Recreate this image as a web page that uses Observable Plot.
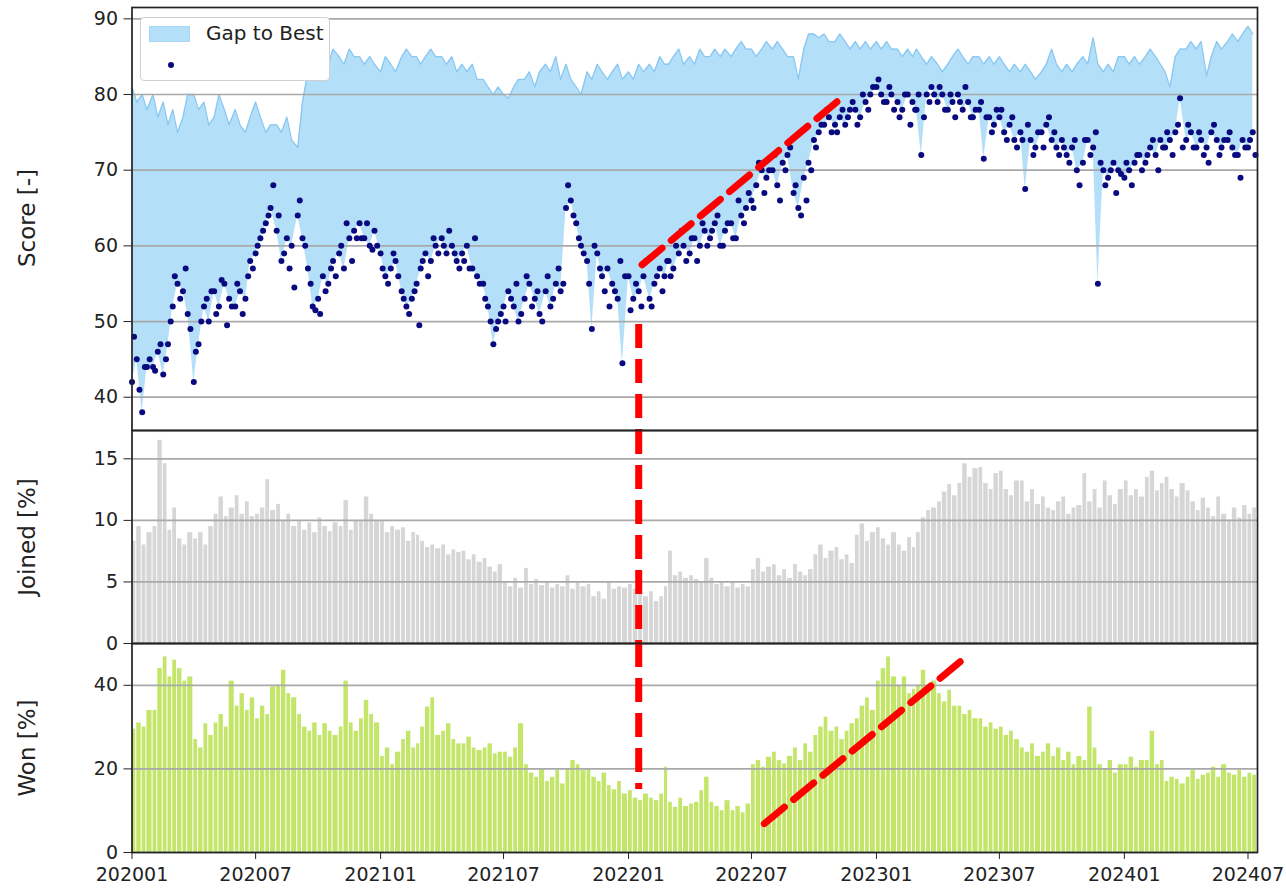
<!DOCTYPE html>
<html>
<head>
<meta charset="utf-8">
<script src="https://cdn.jsdelivr.net/npm/d3@7"></script>
<script src="https://cdn.jsdelivr.net/npm/@observablehq/plot@0.6"></script>
<style>
  body { margin: 0; background: #fff; font-family: "DejaVu Sans", sans-serif; }
  #fig { position: relative; width: 1286px; height: 891px; overflow: hidden; background: #fff; }
  .panel { position: absolute; left: 0; }
  .ylab { position: absolute; font-size: 23px; color: #222; white-space: nowrap;
          transform: translate(-50%, -50%) rotate(-90deg); }
  #legend { position: absolute; left: 140px; top: 17px; width: 190px; height: 64px; background: #fff;
            border: 1px solid #d0d0d0; border-radius: 4px; box-sizing: border-box; }
  #legend .patch { position: absolute; left: 8px; top: 8px; width: 41px; height: 16px; background: #b3dff9;
                   border: 1px solid #a5d6f5; box-sizing: border-box; }
  #legend .txt { position: absolute; left: 65px; top: 3px; font-size: 20px; color: #222; }
  #legend .dot { position: absolute; left: 27px; top: 44px; width: 6px; height: 6px; border-radius: 50%; background: #0a0a80; }
</style>
</head>
<body>
<div id="fig"></div>
<script>
// ---------- data, starting 2020-01 ----------
// main series: 4 samples per month (days 1, 8, 16, 23)
const sampleDays = [1, 8, 16, 23];
// extra score readings between them (days 4, 12, 20, 27)
const midDays = [4, 12, 20, 27];

const score = [
  42, 45, 38, 44,   44, 46, 43, 47,   52, 55, 54, 51,   42, 47, 52, 50,   54, 52, 55, 53,   52, 54, 53, 58,
  59, 61, 63, 65,   62, 58, 61, 60,   64, 61, 57, 52,   53, 56, 55, 58,   59, 57, 61, 62,   63, 61, 60, 62,
  59, 56, 57, 58,   54, 52, 53, 55,   57, 59, 58, 60,   61, 59, 60, 58,   59, 60, 57, 56,   55, 52, 47, 50,
  52, 54, 52, 50,   53, 55, 53, 51,   54, 52, 55, 54,   65, 66, 63, 60,   58, 49, 59, 56,   57, 55, 53, 44.5,
  56, 53, 54, 56,   53, 55, 57, 56,   58, 57, 59, 60,   59, 61, 60, 62,   61, 63, 60, 62,   63, 61, 64, 65,
  66, 68, 70, 69,   70, 68, 71, 72,   67, 65, 69, 71,   74, 75, 76, 77,   76, 77, 76, 78,   78, 77, 79, 80,
  81, 80, 79, 80,   79, 78, 80, 79,   78, 72, 80, 81,   79, 80, 78, 79,   80, 78, 79, 77,   78, 71.5, 77, 76,
  77, 75, 76, 74,   75, 67.5, 74, 73, 75, 76, 74, 73,   74, 72, 73, 70,   71, 74, 73, 55,   70, 69, 71, 70,
  69, 70, 71, 72,   71, 73, 72, 74,   73, 74, 75, 79.5, 74, 75, 73, 74,   73, 75, 74, 73,   74, 73, 72, 74,
  73, 75
];

const scoreMid = [
  48, 41, 44, 45,   43.5, 47, 45, 50, 56, 53, 57, 49,   46, 50, 53, 54,   51, 55.5, 49.5, 52, 55, 51, 56, 57,
  60, 62, 64, 68,   64, 59, 57, 54.5, 66, 60, 55, 51.5, 51, 54, 57, 56,   60, 63, 58, 61,   61, 63, 59.5, 60,
  57, 55, 59, 56,   53, 51, 54, 49.5, 58, 56, 61, 59,   60, 62, 59, 57,   58, 57, 61, 55,   53, 50, 49, 51,
  50, 53, 55, 51,   56, 52, 54, 50,   56, 53, 57, 55,   68, 64, 61, 59,   55, 60, 57, 54,   52, 54, 58, 56,
  51.5, 55, 52, 58, 52, 56, 54, 58,   56, 60, 62, 58,   61, 58, 63, 60,   62, 64, 60, 63,   61, 66, 63, 67,
  65, 71, 67, 70,   72, 66, 70, 73,   68, 64, 66, 70,   73, 76, 78, 75,   75, 78, 77, 79,   76, 80, 78, 81,
  82, 79, 81, 78,   77, 80, 76, 78,   80, 77, 79, 80,   81, 78, 80, 77,   79, 81, 77, 78,   79, 77, 75, 78,
  78, 74, 77, 73,   74, 76, 72, 75,   73, 77, 75, 72,   73, 71, 74, 68,   74, 72, 75, 71,   68, 70, 67, 69.5,
  71, 68, 72, 70,   72, 74, 70, 73,   75, 72, 76, 73,   76, 73, 75, 72,   71, 76, 72, 74,   75, 72, 69, 73,
  74, 72
];

const best = [
  81, 79, 80, 78,   80, 77, 79, 76,   78, 75, 77, 80,   80, 78, 79, 76,   77, 80, 78, 76,   78, 76, 75, 77,
  79, 77, 75, 76,   76, 75, 77, 74,   73, 79, 83, 85,   84, 85, 84, 86,   85, 84, 86, 85,   85, 84, 85, 84,
  83, 85, 84, 83,   85, 86, 85, 85,   84, 85, 86, 85,   85, 84, 85, 83,   84, 83, 84, 82,   82, 81, 80, 81,
  80, 79.5, 81, 82, 82, 83, 81, 83,   84, 83, 85, 82,   84, 82, 81, 80,   83, 82, 84, 83,   82, 83, 84, 82,
  83, 82, 84, 83,   84, 83, 85, 84,   84, 85, 86, 84,   85, 84, 86, 85,   85, 86, 85, 86,   85, 86, 87, 86,
  86, 85, 86, 87,   86, 87, 86, 85,   85, 82, 86, 88,   88, 87.5, 88, 87, 87, 88, 87, 86,   87, 86, 87, 86,
  87, 86, 87, 86,   86, 85, 86, 85,   86, 85, 84, 85,   84, 83, 84, 85,   86, 85, 84, 85,   85, 84, 85, 84,
  85, 84, 83, 84,   83, 84, 83, 82,   83, 84, 86, 84,   83, 84, 83, 84,   85, 84, 87.5, 84, 83, 84, 83, 85,
  85, 84, 85, 84,   85, 86, 85, 84,   83, 81, 85, 86,   86, 87, 86, 87,   82.5, 85, 87, 86, 87, 88, 87, 88,
  89, 88
];

const joined = [
  8.3, 9.5, 8.0, 9.0,    9.5, 16.5, 14.6, 9.2,  11.0, 8.5, 8.0, 9.0,   8.5, 9.0, 8.0, 9.5,
  10.5, 11.9, 10.3, 11.0, 12.0, 10.5, 11.5, 10.3, 10.5, 11.0, 13.3, 10.8, 11.3, 10.0, 10.5, 9.5,
  10.0, 9.2, 9.8, 9.0,   10.2, 9.5, 9.1, 9.8,   9.5, 11.6, 9.2, 10.0,   10.0, 11.9, 10.5, 10.0,
  9.9, 9.0, 9.5, 9.2,    9.4, 8.3, 9.0, 8.8,    8.3, 7.8, 8.0, 7.7,     8.0, 7.2, 7.6, 7.4,
  7.5, 6.8, 7.2, 6.6,    6.9, 6.2, 5.8, 6.4,    5.0, 4.6, 5.3, 4.5,     6.1, 4.8, 5.2, 4.7,
  5.0, 4.5, 4.8, 4.6,    5.5, 4.4, 5.0, 4.6,    4.8, 3.8, 4.2, 3.6,     5.0, 4.4, 4.6, 4.5,
  4.8, 4.4, 4.6, 3.8,    4.2, 3.4, 3.8, 4.6,    7.5, 5.5, 5.8, 5.3,     5.5, 5.2, 5.0, 6.9,
  5.3, 4.8, 5.0, 4.6,    5.0, 4.5, 4.8, 4.6,    6.0, 6.9, 5.8, 6.2,     6.4, 5.5, 6.0, 5.3,
  6.4, 5.8, 5.5, 6.0,    7.2, 8.0, 6.9, 7.5,    7.8, 6.8, 7.2, 6.5,     8.8, 9.7, 8.3, 9.0,
  9.4, 8.5, 8.0, 9.0,    8.0, 7.5, 8.6, 7.8,    9.0, 10.2, 10.8, 11.0,  11.5, 12.3, 12.9, 12.0,
  13.0, 14.6, 13.5, 14.2, 14.3, 13.0, 12.5, 13.8, 14.0, 12.5, 12.0, 13.2, 13.2, 11.5, 12.5, 11.3,
  11.9, 11.0, 10.8, 11.5, 11.9, 10.5, 11.0, 11.2, 13.8, 11.5, 12.5, 11.0, 13.2, 12.0, 11.3, 12.5,
  13.2, 12.0, 12.5, 11.9, 13.5, 14.0, 12.4, 13.0, 13.5, 12.5, 11.9, 13.0, 12.4, 11.5, 10.8, 11.8,
  11.0, 10.3, 11.9, 10.5, 10.0, 11.0, 10.2, 11.2, 10.5, 11.0
];

const won = [
  29.5, 31, 30, 34,    34, 44, 46.8, 42,    46, 44, 41, 42,      27, 25, 30.8, 28,
  31, 33, 30, 41,      35, 38, 34, 37,      32, 35, 33, 39.6,    40, 43.6, 38, 37,
  33, 30, 29, 31,      28, 30.8, 29, 28,    30, 41, 31, 29,      32, 36.4, 33, 31,
  23, 25, 21, 24,      27, 29, 25, 26,      30, 34.8, 37, 28,    29, 30.8, 27, 26,
  26, 27.6, 25, 24.4,  25, 26, 23.6, 24,    24, 22.8, 25, 30.8,  21, 19, 18, 20,
  17, 18, 19.6, 16.4,  20, 22, 21, 19.6,    20, 18, 17, 19,      16, 15, 17, 14,
  14.8, 13, 12.4, 14,  13, 12.4, 14, 20.4,  12, 10.8, 13, 11,    11.6, 12, 14.8, 18,
  12, 11, 10, 12.4,    10, 11, 9.5, 11.6,   21, 22, 20.4, 22.8,  24, 22, 21.2, 23,
  25, 22, 26, 24,      28, 30, 32.4, 29,    30, 27, 29, 30.8,    32, 35, 37, 34,
  41, 44, 46.8, 42,    40, 42, 38, 39,      40, 43.6, 39, 41,    38, 36, 38.8, 35,
  35, 33, 34, 32,      32, 30, 31, 29.5,    30, 28, 29, 27,      25, 24, 26, 23,
  24, 26, 23, 25,      22, 24, 21, 23,      22, 34.8, 25, 21,    20, 22, 19, 21,
  21, 22.8, 20.4, 22,  22, 29, 21, 22,      17, 18, 17.5, 16.4,  18, 19.6, 17.5, 18.5,
  19, 20.4, 18, 21,    19, 18.5, 19.6, 18,  19, 18.5
];

// axes
const xDomainDates = ["2020-01-01", "2024-07-15"];
const xTickDates = ["2020-01-01", "2020-07-01", "2021-01-01", "2021-07-01", "2022-01-01",
                    "2022-07-01", "2023-01-01", "2023-07-01", "2024-01-01", "2024-07-01"];
const scoreTicks = [40, 50, 60, 70, 80, 90];
const joinedTicks = [0, 5, 10, 15];
const wonTicks = [0, 20, 40];
const scoreDomain = [35.6, 91.5];
const joinedDomain = [0, 17.3];
const wonDomain = [0, 50];

// red annotations
const trendScore = [{date: "2022-01-21", value: 57.5}, {date: "2022-11-10", value: 79.5}];
const trendWon = [{date: "2022-07-20", value: 6.9}, {date: "2023-05-07", value: 46}];
const markerDate = "2022-01-16";
const markerScoreTop = 49.6;
const markerWonBottom = 15.1;

// ---------- build ----------
const P = s => new Date(s + "T00:00:00Z");
const dateOf = (i, days) => new Date(Date.UTC(2020, Math.floor(i / 4), days[i % 4]));
const rows = score.map((s, i) => ({
  date: dateOf(i, sampleDays),
  next: i + 1 < score.length ? dateOf(i + 1, sampleDays) : d3.utcDay.offset(dateOf(i, sampleDays), 7),
  score: s, best: best[i], joined: joined[i], won: won[i]
}));
const midRows = scoreMid.map((s, i) => ({date: dateOf(i, midDays), score: s}));
const tScore = trendScore.map(d => ({date: P(d.date), value: d.value}));
const tWon = trendWon.map(d => ({date: P(d.date), value: d.value}));
const mDate = P(markerDate);

const W = 1286, ML = 131.5, MR = 29;
const FONT = "DejaVu Sans";
const RED = "#ff0000";
const NAVY = "#0a0a80";
const GRID = {stroke: "#a9a9a9", strokeOpacity: 1, strokeWidth: 1.7};
const xScale = {type: "utc", domain: xDomainDates.map(P)};
const axisOpts = {tickSize: 8, tickPadding: 6, fontSize: 19, stroke: "#222", fill: "#222", label: null};
const style = {fontFamily: FONT, color: "#222", background: "transparent", overflow: "visible"};

const fig = document.getElementById("fig");
function place(svg, y) {
  svg.classList.add("panel");
  svg.style.top = y + "px";
  fig.appendChild(svg);
}

// top panel: plot area y 7..430
const scorePanel = Plot.plot({
  width: W, height: 440, marginLeft: ML, marginRight: MR, marginTop: 7, marginBottom: 10,
  style, x: {...xScale, axis: null}, y: {domain: scoreDomain, axis: null},
  marks: [
    Plot.areaY(rows, {x: "date", y1: "score", y2: "best", fill: "#b3dff9"}),
    Plot.lineY(rows, {x: "date", y: "best", stroke: "#8ac8f2", strokeWidth: 1.3}),
    Plot.gridY(scoreTicks, GRID),
    Plot.dot(midRows, {x: "date", y: "score", r: 3, fill: NAVY}),
    Plot.dot(rows, {x: "date", y: "score", r: 3, fill: NAVY}),
    Plot.ruleX([{date: mDate, y1: markerScoreTop, y2: scoreDomain[0]}],
      {x: "date", y1: "y1", y2: "y2", stroke: RED, strokeWidth: 7, strokeDasharray: "24 11"}),
    Plot.line(tScore, {x: "date", y: "value", stroke: RED, strokeWidth: 7, strokeDasharray: "26 12"}),
    Plot.axisY(scoreTicks, axisOpts),
    Plot.frame({stroke: "#222", strokeWidth: 1.7})
  ]
});
place(scorePanel, 0);

// middle panel: plot area y 430..643
const joinedPanel = Plot.plot({
  width: W, height: 233, marginLeft: ML, marginRight: MR, marginTop: 10, marginBottom: 10,
  style, x: {...xScale, axis: null}, y: {domain: joinedDomain, axis: null},
  marks: [
    Plot.rectY(rows, {x1: "date", x2: "next", y: "joined", fill: "#d6d6d6", insetRight: 1, clip: true}),
    Plot.gridY(joinedTicks, GRID),
    Plot.ruleX([{date: mDate, y1: joinedDomain[1], y2: joinedDomain[0]}],
      {x: "date", y1: "y1", y2: "y2", stroke: RED, strokeWidth: 7, strokeDasharray: "24 11"}),
    Plot.axisY(joinedTicks, axisOpts),
    Plot.frame({stroke: "#222", strokeWidth: 1.7})
  ]
});
place(joinedPanel, 420);

// bottom panel: plot area y 643..852
const wonPanel = Plot.plot({
  width: W, height: 258, marginLeft: ML, marginRight: MR, marginTop: 10, marginBottom: 39,
  style, x: {...xScale}, y: {domain: wonDomain, axis: null},
  marks: [
    Plot.rectY(rows, {x1: "date", x2: "next", y: "won", fill: "#c3e66a", insetRight: 1, clip: true}),
    Plot.gridY(wonTicks, GRID),
    Plot.ruleX([{date: mDate, y1: wonDomain[1], y2: markerWonBottom}],
      {x: "date", y1: "y1", y2: "y2", stroke: RED, strokeWidth: 7, strokeDasharray: "24 11"}),
    Plot.line(tWon, {x: "date", y: "value", stroke: RED, strokeWidth: 7, strokeDasharray: "26 12"}),
    Plot.axisY(wonTicks, axisOpts),
    Plot.axisX(xTickDates.map(P), {tickSize: 7, tickPadding: 8, fontSize: 19, stroke: "#222", fill: "#222",
      label: null, tickFormat: d3.utcFormat("%Y%m")}),
    Plot.frame({stroke: "#222", strokeWidth: 1.7})
  ]
});
place(wonPanel, 633);

// y-axis titles
[["Score [-]", 218], ["Joined [%]", 537], ["Won [%]", 748]].forEach(([t, y]) => {
  const d = document.createElement("div");
  d.className = "ylab";
  d.style.left = "27px";
  d.style.top = y + "px";
  d.textContent = t;
  fig.appendChild(d);
});

// legend
const lg = document.createElement("div");
lg.id = "legend";
lg.innerHTML = '<div class="patch"></div><div class="txt">Gap to Best</div><div class="dot"></div>';
fig.appendChild(lg);
</script>
</body>
</html>
